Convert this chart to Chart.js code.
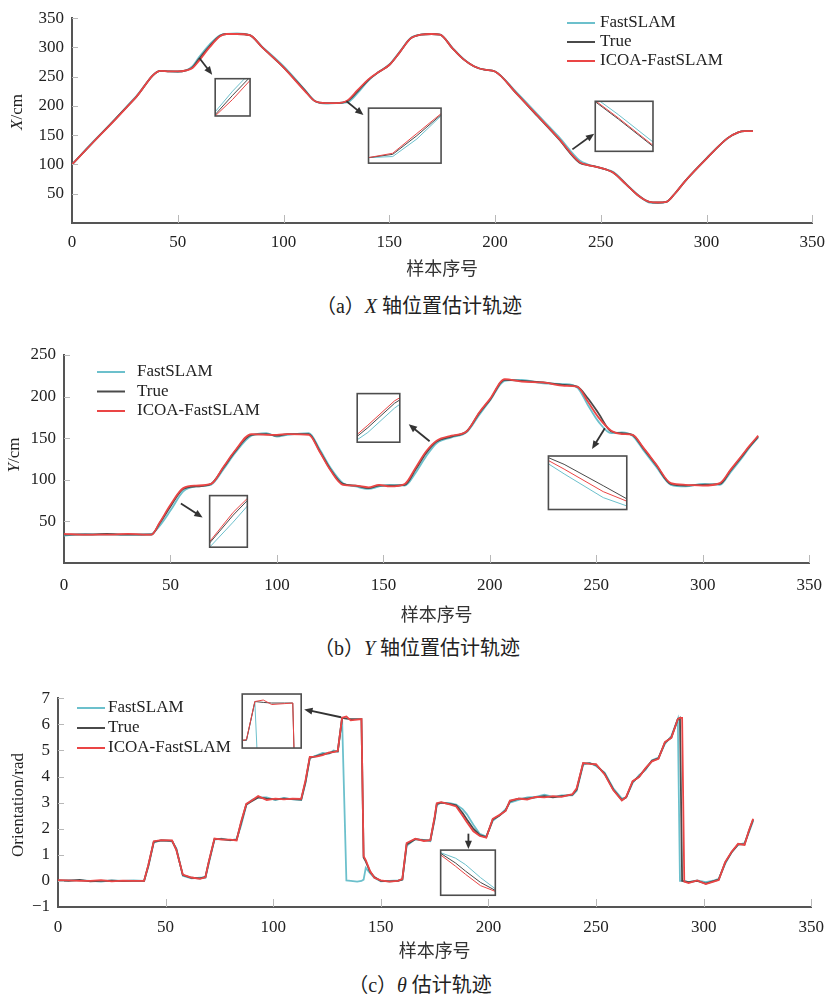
<!DOCTYPE html>
<html>
<head>
<meta charset="utf-8">
<script src="https://cdn.jsdelivr.net/npm/chart.js@4.4.1/dist/chart.umd.min.js"></script>
<style>
  body { margin: 0; background: #fff; width: 834px; height: 996px; position: relative; overflow: hidden;
         font-family: "Liberation Serif", "Noto Sans CJK SC", serif; color: #222; }
  canvas { position: absolute; left: 0; }
  .ylab { position: absolute; transform: translate(-50%, -50%) rotate(-90deg); white-space: nowrap; font-size: 17px; }
  .cap { position: absolute; transform: translate(-50%, -50%); white-space: nowrap; font-size: 20px; }
</style>
</head>
<body>
<canvas id="chartA" width="834" height="280" style="top:0px"></canvas>
<canvas id="chartB" width="834" height="296" style="top:330px"></canvas>
<canvas id="chartC" width="834" height="282" style="top:680px"></canvas>

<div class="ylab" style="left:17px; top:112px;"><i>X</i>/cm</div>
<div class="ylab" style="left:14px; top:455px;"><i>Y</i>/cm</div>
<div class="ylab" style="left:18px; top:805px;">Orientation/rad</div>
<div class="cap" style="left:419px; top:304px;">（a）<i>X</i> 轴位置估计轨迹</div>
<div class="cap" style="left:417px; top:646px;">（b）<i>Y</i> 轴位置估计轨迹</div>
<div class="cap" style="left:420px; top:983px;">（c）<i>θ</i> 估计轨迹</div>

<script>
// series names and ticks
const seriesNames = ['FastSLAM', 'True', 'ICOA-FastSLAM'];
const xTicks = [0, 50, 100, 150, 200, 250, 300, 350];
const xTitle = '样本序号';

// (a) X position
const sampleA = [0, 10, 20, 30, 42, 46, 50, 54, 57, 60, 65, 70, 73, 78, 84, 90, 100, 110, 115, 120,
  125, 130, 135, 140, 145, 150, 155, 160, 165, 170, 174, 180, 185, 190, 195, 200, 210, 220, 230, 240,
  244, 248, 252, 256, 262, 268, 273, 277, 281, 285, 290, 300, 310, 315, 318, 322];
const fastA = [100, 139, 176, 215, 260, 259, 258, 261, 268, 283, 305, 321, 323, 324, 321, 301, 268, 228, 208, 204,
  205, 206, 222, 243, 258, 271, 293, 316, 322, 323, 322, 299, 281, 268, 262, 259, 224, 186, 148, 107,
  100, 96, 92, 87, 67, 47, 35, 34, 36, 50, 72, 111, 145, 155, 157, 157];
const trueA = [100, 138, 176, 214, 260, 259, 259, 261, 266, 280, 302, 320, 323, 323, 321, 300, 266, 227, 208, 205,
  205, 208, 225, 244, 258, 270, 292, 315, 322, 323, 322, 298, 280, 268, 262, 259, 222, 183, 144, 103,
  99, 96, 92, 86, 66, 46, 36, 35, 36, 50, 72, 110, 145, 155, 157, 157];
const icoaA = [100, 138, 175, 214, 260, 259, 259, 261, 265, 277, 300, 319, 323, 323, 321, 300, 266, 226, 208, 205,
  205, 209, 227, 245, 258, 270, 292, 315, 322, 323, 322, 298, 280, 268, 262, 259, 222, 184, 145, 104,
  99, 96, 92, 86, 66, 46, 36, 35, 36, 50, 72, 110, 145, 155, 157, 157];
const yTicksA = [50, 100, 150, 200, 250, 300, 350];

// (b) Y position
const sampleB = [0, 10, 20, 30, 41, 45, 50, 56, 62, 69, 75, 80, 88, 95, 100, 105, 115, 120, 125, 131,
  137, 143, 148, 153, 160, 165, 170, 175, 182, 189, 195, 200, 207, 215, 225, 235, 241, 246, 251, 257,
  262, 267, 272, 278, 285, 292, 300, 308, 313, 318, 322, 326];
const fastB = [33, 35, 34, 34, 35, 45, 63, 86, 92, 94, 113, 131, 153, 156, 152, 154, 156, 137, 115, 96,
  92, 89, 92, 94, 93, 108, 128, 144, 151, 157, 178, 195, 219, 220, 216, 215, 211, 190, 170, 156,
  157, 153, 136, 116, 94, 92, 95, 94, 109, 125, 139, 151];
const trueB = [34, 34, 35, 34, 34, 48, 68, 89, 92, 95, 115, 133, 154, 155, 153, 155, 155, 135, 113, 95,
  93, 90, 93, 93, 94, 112, 132, 146, 152, 158, 180, 196, 220, 219, 217, 214, 212, 198, 180, 158,
  156, 154, 138, 118, 95, 93, 94, 95, 111, 127, 140, 152];
const icoaB = [35, 34, 34, 35, 34, 49, 70, 90, 93, 95, 116, 134, 155, 154, 154, 155, 154, 134, 112, 94,
  93, 91, 94, 92, 95, 114, 134, 147, 153, 158, 181, 197, 221, 218, 217, 213, 212, 194, 175, 159,
  155, 154, 139, 119, 96, 94, 93, 96, 112, 128, 141, 153];
const yTicksB = [50, 100, 150, 200, 250];

// (c) orientation
const sampleC = [0, 5, 10, 15, 20, 25, 30, 35, 40, 42, 44.5, 48, 53, 55, 58, 62, 66, 68.5, 70, 72.7,
  76, 80, 83, 85, 87.5, 90, 93, 97, 101, 105, 109, 113, 115, 117, 120, 123, 126, 128, 130, 132,
  134, 136, 139, 141, 142, 143, 145, 147, 150, 154, 158, 160, 162, 166, 170, 173, 175, 176, 178, 182,
  185, 188, 190, 193, 196, 199, 202, 205, 208, 210, 214, 218, 222, 226, 230, 234, 239, 241, 244, 247,
  250, 254, 258, 262, 264, 267, 270, 273, 276, 279, 282, 285, 288, 289, 290, 291, 293, 297, 301, 305,
  307, 310, 313, 316, 319, 321, 323];
const fastC = [0.0, 0.03, 0.02, 0.0, -0.03, 0.02, 0.0, 0.02, 0.0, 0.55,
  1.48, 1.55, 1.52, 1.25, 0.2, 0.1, 0.12, 0.12, 0.65, 1.58,
  1.62, 1.55, 1.6, 2.1, 2.9, 3.1, 3.2, 3.2, 3.1, 3.18,
  3.12, 3.1, 3.75, 4.7, 4.8, 4.9, 4.88, 5.0, 4.95, 6.22,
  0.02, 0.0, -0.03, 0.0, 0.05, 0.5, 0.3, 0.12, -0.02, 0.0,
  0.02, 0.05, 1.35, 1.6, 1.57, 1.52, 2.35, 2.9, 3.0, 2.98,
  2.92, 2.75, 2.55, 2.15, 1.8, 1.7, 2.3, 2.5, 2.75, 3.0,
  3.1, 3.2, 3.22, 3.3, 3.22, 3.28, 3.28, 3.45, 4.45, 4.52,
  4.4, 4.15, 3.55, 3.15, 3.2, 3.75, 4.05, 4.25, 4.62, 4.72,
  5.25, 5.55, 6.2, 0.0, 0.0, 0.0, -0.05, 0.02, -0.05, 0.02,
  0.08, 0.65, 1.1, 1.38, 1.45, 1.85, 2.3];
const trueC = [0.02, 0.0, 0.04, -0.02, 0.0, 0.01, -0.01, 0.0, 0.0, 0.6,
  1.5, 1.55, 1.53, 1.2, 0.22, 0.12, 0.1, 0.15, 0.7, 1.6,
  1.6, 1.56, 1.58, 2.2, 2.93, 3.05, 3.2, 3.15, 3.12, 3.15,
  3.13, 3.12, 3.8, 4.72, 4.78, 4.85, 4.9, 4.95, 4.96, 6.25,
  6.22, 6.2, 6.2, 6.2, 0.9, 0.75, 0.35, 0.15, 0.0, -0.02,
  0.0, 0.05, 1.4, 1.6, 1.55, 1.55, 2.4, 2.95, 3.0, 2.95,
  2.9, 2.6, 2.35, 2.0, 1.75, 1.68, 2.35, 2.5, 2.7, 3.05,
  3.15, 3.15, 3.2, 3.25, 3.2, 3.25, 3.3, 3.5, 4.5, 4.5,
  4.45, 4.1, 3.5, 3.1, 3.2, 3.8, 4.0, 4.3, 4.6, 4.7,
  5.3, 5.5, 6.2, 6.25, 0.0, -0.02, -0.05, 0.0, -0.1, 0.0,
  0.05, 0.7, 1.1, 1.4, 1.4, 1.9, 2.35];
const icoaC = [0.03, 0.02, 0.0, 0.0, 0.03, -0.02, 0.01, 0.0, 0.0, 0.62,
  1.52, 1.56, 1.55, 1.18, 0.24, 0.13, 0.08, 0.14, 0.72, 1.62,
  1.58, 1.58, 1.55, 2.25, 2.95, 3.08, 3.25, 3.1, 3.15, 3.12,
  3.15, 3.14, 3.85, 4.75, 4.76, 4.82, 4.92, 4.93, 4.98, 6.25,
  6.3, 6.15, 6.18, 6.2, 0.95, 0.8, 0.38, 0.12, 0.02, -0.03,
  0.0, 0.08, 1.45, 1.62, 1.53, 1.56, 2.45, 2.98, 3.02, 2.93,
  2.85, 2.5, 2.25, 1.9, 1.72, 1.66, 2.38, 2.52, 2.68, 3.08,
  3.15, 3.12, 3.22, 3.2, 3.25, 3.22, 3.32, 3.55, 4.52, 4.48,
  4.47, 4.08, 3.48, 3.08, 3.22, 3.82, 3.98, 4.32, 4.58, 4.68,
  5.32, 5.48, 6.2, 6.25, 6.25, -0.03, -0.08, 0.02, -0.12, -0.02,
  0.03, 0.72, 1.12, 1.42, 1.38, 1.92, 2.38];
const yTicksC = [-1, 0, 1, 2, 3, 4, 5, 6, 7];

const colors = ['#6cc0cc', '#4a4a4a', '#ea4545'];
const tickFont = { family: 'Liberation Serif', size: 17 };

function toPoints(xs, ys) {
  return xs.map((x, i) => ({ x: x, y: ys[i] }));
}

// small inward tick marks like matlab
const tickMarks = {
  id: 'tickMarks',
  afterDraw(chart) {
    const ctx = chart.ctx, a = chart.chartArea;
    const xs = chart.scales.x, ys = chart.scales.y;
    ctx.save();
    ctx.strokeStyle = '#b8b8b8';
    ctx.lineWidth = 1;
    ctx.beginPath();
    xs.ticks.forEach(t => {
      const px = Math.round(xs.getPixelForValue(t.value)) + 0.5;
      if (px < a.left + 2) return;
      ctx.moveTo(px, a.bottom); ctx.lineTo(px, a.bottom - 8);
    });
    ys.ticks.forEach(t => {
      const py = Math.round(ys.getPixelForValue(t.value)) + 0.5;
      if (py > a.bottom - 2) return;
      ctx.moveTo(a.left, py); ctx.lineTo(a.left + 6, py);
    });
    ctx.stroke();
    ctx.restore();
  }
};

// zoom boxes: redraw the series of a small window inside a framed box, with an arrow
const zoomInsets = {
  id: 'zoomInsets',
  afterDatasetsDraw(chart, args, opts) {
    const ctx = chart.ctx;
    const xs = chart.scales.x, ys = chart.scales.y;
    (opts.insets || []).forEach(ins => {
      const bx0 = xs.getPixelForValue(ins.box[0]), bx1 = xs.getPixelForValue(ins.box[1]);
      const by0 = ys.getPixelForValue(ins.box[3]), by1 = ys.getPixelForValue(ins.box[2]);
      const w = bx1 - bx0, h = by1 - by0;
      const s = ins.src;
      ctx.save();
      ctx.fillStyle = '#fff';
      ctx.fillRect(bx0, by0, w, h);
      ctx.beginPath();
      ctx.rect(bx0, by0, w, h);
      ctx.clip();
      chart.data.datasets.forEach(ds => {
        ctx.strokeStyle = ds.borderColor;
        ctx.lineWidth = 1;
        ctx.beginPath();
        ds.data.forEach((p, i) => {
          const px = bx0 + (p.x - s[0]) / (s[1] - s[0]) * w;
          const py = by0 + (s[3] - p.y) / (s[3] - s[2]) * h;
          if (i === 0) ctx.moveTo(px, py); else ctx.lineTo(px, py);
        });
        ctx.stroke();
      });
      ctx.restore();

      ctx.save();
      ctx.strokeStyle = '#4d4d4d';
      ctx.lineWidth = 1.6;
      ctx.strokeRect(bx0, by0, w, h);
      // arrow
      const fx = xs.getPixelForValue(ins.arrow[0]), fy = ys.getPixelForValue(ins.arrow[1]);
      const tx = xs.getPixelForValue(ins.arrow[2]), ty = ys.getPixelForValue(ins.arrow[3]);
      const ang = Math.atan2(ty - fy, tx - fx);
      ctx.strokeStyle = '#333';
      ctx.fillStyle = '#333';
      ctx.lineWidth = 1.8;
      ctx.beginPath();
      ctx.moveTo(fx, fy);
      ctx.lineTo(tx - 5 * Math.cos(ang), ty - 5 * Math.sin(ang));
      ctx.stroke();
      ctx.beginPath();
      ctx.moveTo(tx, ty);
      ctx.lineTo(tx - 9 * Math.cos(ang - 0.4), ty - 9 * Math.sin(ang - 0.4));
      ctx.lineTo(tx - 9 * Math.cos(ang + 0.4), ty - 9 * Math.sin(ang + 0.4));
      ctx.closePath();
      ctx.fill();
      ctx.restore();
    });
  }
};

// legend drawn inside the plot
const boxLegend = {
  id: 'boxLegend',
  afterDraw(chart, args, opts) {
    const ctx = chart.ctx;
    ctx.save();
    ctx.font = '17px "Liberation Serif", serif';
    ctx.textBaseline = 'middle';
    chart.data.datasets.forEach((ds, i) => {
      const y = opts.y + i * opts.gap;
      ctx.strokeStyle = ds.borderColor;
      ctx.lineWidth = 2;
      ctx.beginPath();
      ctx.moveTo(opts.x, y);
      ctx.lineTo(opts.x + opts.len, y);
      ctx.stroke();
      ctx.fillStyle = '#222';
      ctx.fillText(ds.label, opts.x + opts.len + opts.textGap, y);
    });
    ctx.restore();
  }
};

function buildPanel(id, p) {
  const canvas = document.getElementById(id);
  const H = canvas.height;
  const datasets = [p.fast, p.tru, p.icoa].map((ys, i) => ({
    label: seriesNames[i],
    data: toPoints(p.xs, ys),
    borderColor: colors[i],
    borderWidth: 1.8,
    pointRadius: 0,
    cubicInterpolationMode: p.smooth ? 'monotone' : 'default',
    order: 3 - i
  }));
  return new Chart(canvas, {
    type: 'line',
    data: { datasets: datasets },
    options: {
      responsive: false,
      animation: false,
      layout: { padding: { left: 0, right: 834 - p.area.right, top: p.area.top, bottom: 0 } },
      plugins: {
        legend: { display: false },
        tooltip: { enabled: false },
        boxLegend: p.legend,
        zoomInsets: { insets: p.insets }
      },
      scales: {
        x: {
          type: 'linear', min: 0, max: 350,
          afterBuildTicks: s => { s.ticks = xTicks.map(v => ({ value: v })); },
          afterFit: s => { s.height = H - p.area.bottom; },
          ticks: { font: tickFont, color: '#222', padding: p.xPad, maxRotation: 0 },
          grid: { display: false, drawTicks: false },
          border: { color: '#555', width: 2 },
          title: { display: true, text: xTitle, color: '#333',
                   font: { family: 'Noto Sans CJK SC', size: 18 }, padding: { top: 0, bottom: 1 } }
        },
        y: {
          type: 'linear', min: p.yMin, max: p.yMax,
          afterBuildTicks: s => { s.ticks = p.yTicks.map(v => ({ value: v })); },
          afterFit: s => { s.width = p.area.left; },
          ticks: { font: tickFont, color: '#222', padding: 8,
                   callback: v => (v < 0 ? '−' + Math.abs(v) : String(v)) },
          grid: { display: false, drawTicks: false },
          border: { color: '#555', width: 2 }
        }
      }
    },
    plugins: [tickMarks, zoomInsets, boxLegend]
  });
}

buildPanel('chartA', {
  xs: sampleA, fast: fastA, tru: trueA, icoa: icoaA, smooth: true,
  yMin: 0, yMax: 350, yTicks: yTicksA, xPad: 9,
  area: { left: 72, right: 816, top: 14, bottom: 223 },
  legend: { x: 567, y: 23, gap: 19, len: 28, textGap: 5 },
  insets: [
    { box: [67.7, 84.2, 182.9, 246.6], src: [57, 63, 265, 292], arrow: [60.2, 281.9, 66.3, 253.4] },
    { box: [140.2, 174.5, 102.3, 196.3], src: [125, 140, 200, 250], arrow: [129.8, 208, 137.8, 184.6] },
    { box: [247.4, 274.7, 122.5, 208], src: [226, 236, 115, 160], arrow: [236.6, 125.8, 246.9, 152.7] }
  ]
});

buildPanel('chartB', {
  xs: sampleB, fast: fastB, tru: trueB, icoa: icoaB, smooth: true,
  yMin: 0, yMax: 250, yTicks: yTicksB, xPad: 12,
  area: { left: 64, right: 816, top: 25, bottom: 233 },
  legend: { x: 97, y: 42, gap: 19.5, len: 28, textGap: 12 },
  insets: [
    { box: [68.4, 86.1, 19, 81], src: [45, 53, 45, 82], arrow: [54.9, 71.4, 65.1, 54.8] },
    { box: [137.7, 157.7, 145.2, 203.6], src: [163, 171, 100, 140], arrow: [171.7, 146.4, 161.9, 166.7] },
    { box: [227.5, 264.3, 64.3, 128.6], src: [244, 254, 160, 205], arrow: [254, 161.9, 248, 136.9] }
  ]
});

buildPanel('chartC', {
  xs: sampleC, fast: fastC, tru: trueC, icoa: icoaC, smooth: false,
  yMin: -1, yMax: 7, yTicks: yTicksC, xPad: 10,
  area: { left: 58, right: 814, top: 12, bottom: 227 },
  legend: { x: 77, y: 28, gap: 20, len: 28, textGap: 3 },
  insets: [
    { box: [85.6, 113, 5.09, 7.16], src: [129, 143, 4.7, 6.5], arrow: [131.5, 6.27, 114.4, 6.57] },
    { box: [177.8, 203.2, -0.55, 1.18], src: [185, 196, 1.6, 3.0], arrow: [190.7, 1.81, 190.7, 1.22] }
  ]
});
</script>
</body>
</html>
